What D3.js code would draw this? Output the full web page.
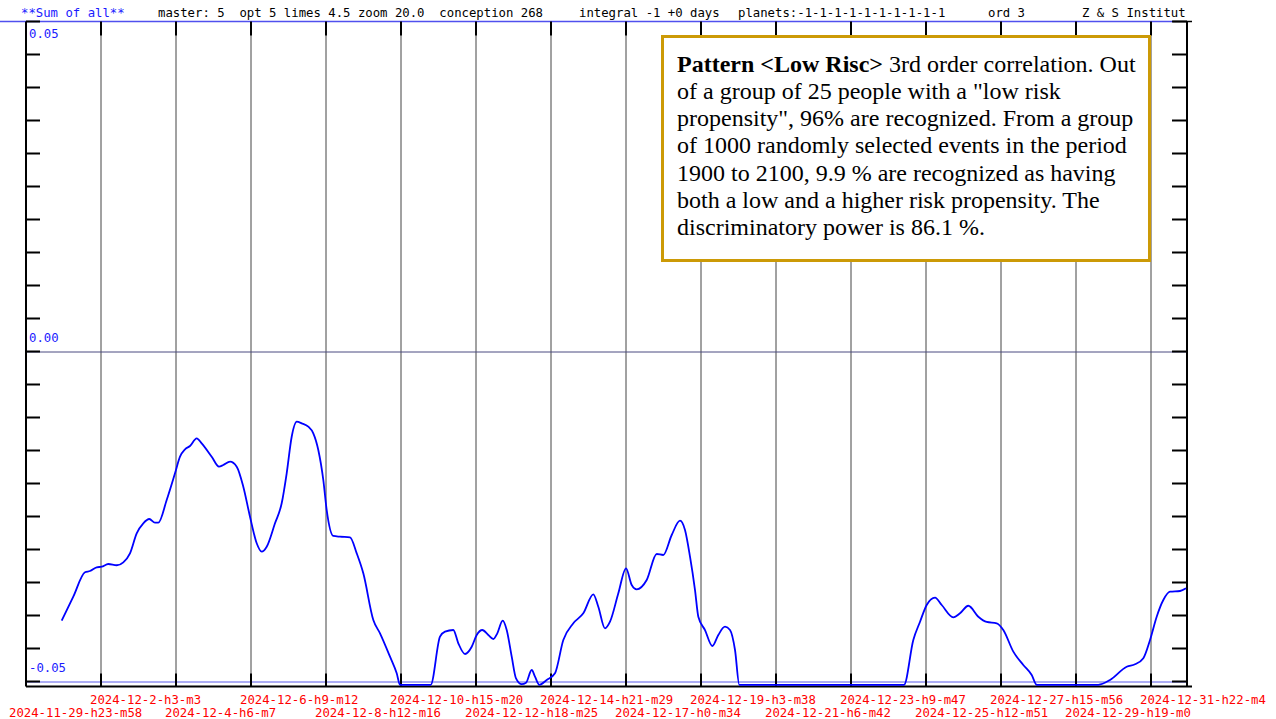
<!DOCTYPE html>
<html>
<head>
<meta charset="utf-8">
<script src="https://cdn.jsdelivr.net/npm/d3@7"></script>
<style>
  body { margin: 0; background: #fff; }
  svg { display: block; }
  .mono { font-family: "DejaVu Sans Mono", "Liberation Mono", monospace; font-size: 12.3px; }
  .note { font-family: "Liberation Serif", "Times New Roman", serif; font-size: 24px; }
</style>
</head>
<body>
<script>

// days since 2024-11-29 23:58 and curve values
const days = [1.013, 1.342, 1.674, 1.816, 2.006, 2.148, 2.335, 2.574, 2.761, 2.951,
  3.141, 3.328, 3.499, 3.660, 3.754, 3.992, 4.228, 4.370, 4.512, 4.654,
  4.844, 4.985, 5.269, 5.476, 5.598, 5.789, 5.979, 6.166, 6.356, 6.546,
  6.688, 6.830, 7.065, 7.255, 7.397, 7.539, 7.681, 7.823, 8.010, 8.152,
  8.294, 8.436, 8.532, 8.720, 8.910, 9.194, 9.384, 9.571, 9.855, 10.045,
  10.329, 10.519, 10.612, 11.483, 11.747, 11.889, 12.125, 12.267, 12.457, 12.647,
  12.789, 12.948, 13.118, 13.260, 13.373, 13.526, 13.640, 13.782, 13.904, 14.065,
  14.188, 14.349, 14.443, 14.565, 14.775, 15.010, 15.246, 15.530, 15.813, 16.097,
  16.239, 16.429, 16.571, 16.807, 17.025, 17.187, 17.329, 17.612, 17.896, 18.083,
  18.322, 18.557, 18.699, 18.841, 18.983, 19.077, 19.267, 19.474, 19.644, 19.834,
  19.976, 20.118, 20.240, 24.913, 25.177, 25.368, 25.557, 25.793, 25.983, 26.312,
  26.502, 26.738, 27.022, 27.260, 27.544, 27.731, 28.015, 28.298, 28.537, 28.679,
  30.427, 30.759, 31.232, 31.468, 31.704, 31.894, 32.083, 32.271, 32.461, 32.745, 32.915];

const values = [-0.04079, -0.03715, -0.03345, -0.03326, -0.03270, -0.03261, -0.03220, -0.03239, -0.03194, -0.03058,
  -0.02755, -0.02603, -0.02538, -0.02594, -0.02594, -0.02250, -0.01845, -0.01594, -0.01482, -0.01432,
  -0.01315, -0.01391, -0.01594, -0.01745, -0.01720, -0.01670, -0.01745, -0.02048, -0.02503, -0.02906,
  -0.03033, -0.02958, -0.02603, -0.02300, -0.01845, -0.01291, -0.01064, -0.01088, -0.01139, -0.01239,
  -0.01492, -0.01947, -0.02402, -0.02795, -0.02806, -0.02815, -0.03058, -0.03361, -0.04068, -0.04270,
  -0.04624, -0.04876, -0.0505, -0.0505, -0.04321, -0.04245, -0.04220, -0.04421, -0.04583, -0.04473,
  -0.04295, -0.04220, -0.04295, -0.04356, -0.04270, -0.04079, -0.04220, -0.04624, -0.04952, -0.0504,
  -0.05018, -0.04826, -0.04927, -0.0505, -0.04977, -0.04876, -0.04371, -0.04118, -0.03967, -0.03679,
  -0.03867, -0.04194, -0.04094, -0.03664, -0.03285, -0.03538, -0.03603, -0.03462, -0.03068, -0.03083,
  -0.02780, -0.02564, -0.02705, -0.03109, -0.03614, -0.04018, -0.04220, -0.04462, -0.04295, -0.04170,
  -0.04220, -0.04523, -0.0505, -0.0505, -0.04371, -0.04094, -0.03841, -0.03730, -0.03841, -0.04027,
  -0.03967, -0.03852, -0.04018, -0.04098, -0.04118, -0.04220, -0.04548, -0.04750, -0.04902, -0.0505,
  -0.0505, -0.04977, -0.04776, -0.04739, -0.04648, -0.04371, -0.04018, -0.03765, -0.03639, -0.03629, -0.03588];

const tickLabels = ["2024-11-29-h23-m58", "2024-12-2-h3-m3", "2024-12-4-h6-m7", "2024-12-6-h9-m12",
  "2024-12-8-h12-m16", "2024-12-10-h15-m20", "2024-12-12-h18-m25", "2024-12-14-h21-m29",
  "2024-12-17-h0-m34", "2024-12-19-h3-m38", "2024-12-21-h6-m42", "2024-12-23-h9-m47",
  "2024-12-25-h12-m51", "2024-12-27-h15-m56", "2024-12-29-h19-m0", "2024-12-31-h22-m4"];
const tickStep = 2.12813;   // days between labels
const dayEnd = 32.943;

const yLabelValues = [0.05, 0.00, -0.05];
const yLabels = ["0.05", "0.00", "-0.05"];

const headerParts = [
  {x: 21, text: "**Sum of all**", color: "#1a1aff"},
  {x: 158, text: "master: 5  opt 5 limes 4.5 zoom 20.0  conception 268", color: "#000"},
  {x: 579, text: "integral -1 +0 days", color: "#000"},
  {x: 738, text: "planets:-1-1-1-1-1-1-1-1-1-1", color: "#000"},
  {x: 988, text: "ord 3", color: "#000"},
  {x: 1082, text: "Z & S Institut", color: "#000"}
];

const noteLines = [
  [["Pattern <Low Risc>", true], [" 3rd order correlation. Out", false]],
  [["of a group of 25 people with a \"low risk", false]],
  [["propensity\", 96% are recognized. From a group", false]],
  [["of 1000 randomly selected events in the period", false]],
  [["1900 to 2100, 9.9 % are recognized as having", false]],
  [["both a low and a higher risk propensity. The", false]],
  [["discriminatory power is 86.1 %.", false]]
];

const svg = d3.select("body").append("svg")
    .attr("width", 1276)
    .attr("height", 719);

const x = d3.scaleLinear().domain([0, dayEnd]).range([26, 1187]);
const y = d3.scaleLinear().domain([-0.05, 0.05]).range([681.5, 21.5]);
const frameBottom = y(-0.05) + 5;

// header
svg.append("g").selectAll("text")
    .data(headerParts)
    .enter().append("text")
        .attr("class", "mono")
        .attr("x", d => d.x)
        .attr("y", 17)
        .attr("fill", d => d.color)
        .style("white-space", "pre")
        .text(d => d.text);

// vertical grid
const gridDays = d3.range(1, tickLabels.length).map(i => i * tickStep);
svg.append("g").selectAll("line")
    .data(gridDays)
    .enter().append("line")
        .attr("x1", d => x(d)).attr("x2", d => x(d))
        .attr("y1", y(0.05)).attr("y2", frameBottom)
        .attr("stroke", "#444").attr("stroke-width", 1);

// horizontal blue lines
svg.append("line")
    .attr("x1", 0).attr("x2", x(dayEnd) - 14)
    .attr("y1", y(0.05)).attr("y2", y(0.05))
    .attr("stroke", "#5050ee").attr("stroke-width", 1.5);
svg.append("g").selectAll("line")
    .data([0, -0.05])
    .enter().append("line")
        .attr("x1", x(0)).attr("x2", x(dayEnd))
        .attr("y1", d => y(d) + 0.5).attr("y2", d => y(d) + 0.5)
        .attr("stroke", d => d === 0 ? "#4a4a80" : "#5a5ae8").attr("stroke-width", 1);

// minor y ticks, left and right
const yTicks = y.ticks(20);
svg.append("g").selectAll("line")
    .data(yTicks)
    .enter().append("line")
        .attr("x1", x(0)).attr("x2", x(0) + 14)
        .attr("y1", d => y(d)).attr("y2", d => y(d))
        .attr("stroke", "#000").attr("stroke-width", 2);
svg.append("g").selectAll("line")
    .data(yTicks)
    .enter().append("line")
        .attr("x1", x(dayEnd) - 15).attr("x2", x(dayEnd))
        .attr("y1", d => y(d)).attr("y2", d => y(d))
        .attr("stroke", "#000").attr("stroke-width", 2);

// top and bottom x ticks
svg.append("g").selectAll("line")
    .data(gridDays)
    .enter().append("line")
        .attr("x1", d => x(d)).attr("x2", d => x(d))
        .attr("y1", y(0.05)).attr("y2", y(0.05) + 14)
        .attr("stroke", "#000").attr("stroke-width", 2);
svg.append("g").selectAll("line")
    .data(gridDays)
    .enter().append("line")
        .attr("x1", d => x(d)).attr("x2", d => x(d))
        .attr("y1", frameBottom - 13).attr("y2", frameBottom)
        .attr("stroke", "#000").attr("stroke-width", 2);

// frame
svg.append("line")
    .attr("x1", x(0)).attr("x2", x(0))
    .attr("y1", y(0.05)).attr("y2", frameBottom)
    .attr("stroke", "#000").attr("stroke-width", 2);
svg.append("line")
    .attr("x1", x(dayEnd)).attr("x2", x(dayEnd))
    .attr("y1", y(0.05)).attr("y2", frameBottom)
    .attr("stroke", "#000").attr("stroke-width", 2);
svg.append("line")
    .attr("x1", x(0)).attr("x2", x(dayEnd) + 5)
    .attr("y1", frameBottom).attr("y2", frameBottom)
    .attr("stroke", "#000").attr("stroke-width", 2);
svg.append("line")
    .attr("x1", x(dayEnd) - 14).attr("x2", x(dayEnd) + 5)
    .attr("y1", y(0.05)).attr("y2", y(0.05))
    .attr("stroke", "#000").attr("stroke-width", 1.5);

// y labels
svg.append("g").selectAll("text")
    .data(yLabelValues)
    .enter().append("text")
        .attr("class", "mono")
        .attr("x", 29)
        .attr("y", d => d === 0.05 ? y(d) + 16 : y(d) - 9.5)
        .attr("fill", "#1a1aff")
        .text((d, i) => yLabels[i]);

// x labels, alternating rows
svg.append("g").selectAll("text")
    .data(tickLabels)
    .enter().append("text")
        .attr("class", "mono")
        .attr("x", (d, i) => x(i * tickStep) - (i === 0 ? 17 : 11))
        .attr("y", (d, i) => i % 2 ? 704 : 717)
        .attr("fill", "#ff0000")
        .text(d => d);

// curve
const line = d3.line()
    .x((d, i) => x(days[i]))
    .y(d => y(d))
    .curve(d3.curveMonotoneX);

svg.append("path")
    .datum(values)
    .attr("d", line)
    .attr("fill", "none")
    .attr("stroke", "#0000ff")
    .attr("stroke-width", 1.8);

// note box
svg.append("rect")
    .attr("x", 662.5).attr("y", 36.5)
    .attr("width", 487).attr("height", 224)
    .attr("fill", "#fff")
    .attr("stroke", "#cc9a06")
    .attr("stroke-width", 3);

const note = svg.append("text")
    .attr("class", "note")
    .attr("fill", "#000");
noteLines.forEach((parts, li) => {
  parts.forEach((p, pi) => {
    const t = note.append("tspan")
        .style("font-weight", p[1] ? "bold" : "normal")
        .style("white-space", "pre")
        .text(p[0]);
    if (pi === 0) t.attr("x", 677).attr("y", 71.5 + li * 27.25);
  });
});

</script>
</body>
</html>
